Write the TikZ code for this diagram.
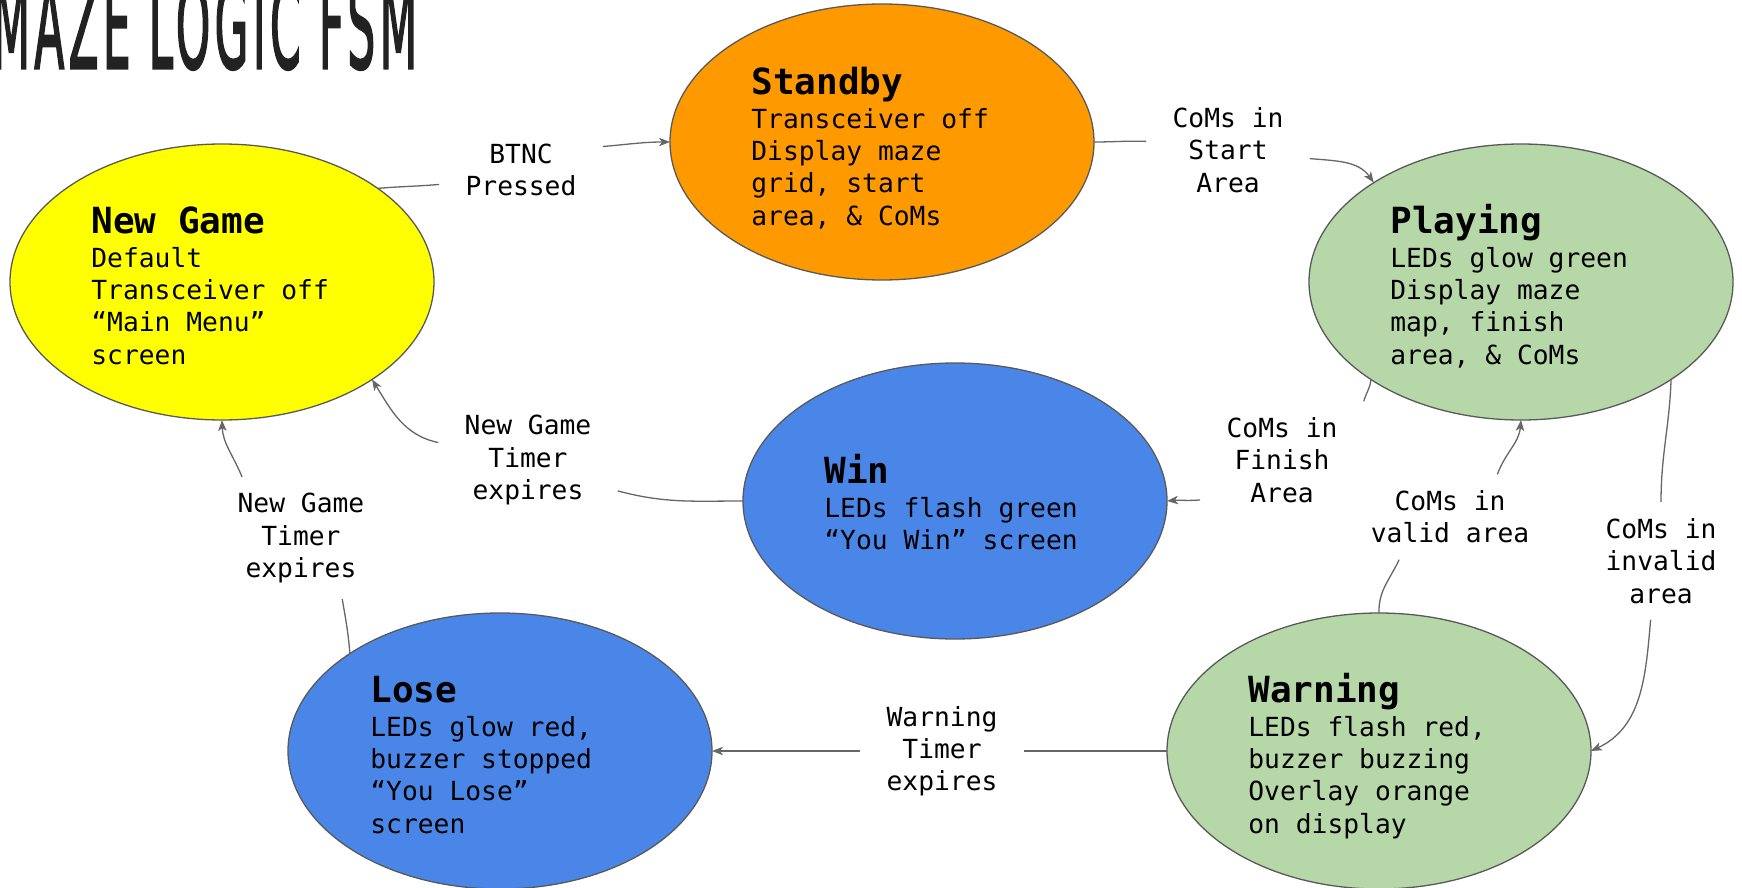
\documentclass[tikz,border=0pt]{standalone}
\usepackage{fontspec}
\usepackage{graphicx}
\setmainfont{DejaVu Sans}
\setmonofont{DejaVu Sans Mono}
\newfontfamily\titlefont{DejaVu Sans}[FakeBold=2.6, LetterSpace=10]
\usetikzlibrary{shapes.geometric,arrows.meta}

\definecolor{ngyellow}{HTML}{FFFF00}
\definecolor{sborange}{HTML}{FF9900}
\definecolor{stgreen}{HTML}{B6D7A8}
\definecolor{stblue}{HTML}{4A86E8}
\definecolor{rimcol}{HTML}{595959}
\definecolor{wirecol}{HTML}{666666}
\definecolor{titlecol}{HTML}{222222}

\newcommand\bodyfont{\fontsize{13.15pt}{16.1pt}\selectfont\ttfamily\mdseries}
\newcommand\headfont{\fontsize{18pt}{20pt}\selectfont\ttfamily\bfseries}
\newcommand\sline[1]{\hbox{#1}}
% heading line followed by the body lines of a state
\newcommand\statebox[2]{\vtop{\headfont\sline{#1}\vskip0.9pt\bodyfont #2}}

\begin{document}
\begin{tikzpicture}[x=0.5pt,y=-0.5pt,
  stateshape/.style={ellipse, draw=rimcol, line width=0.65pt,
    minimum width=212pt, minimum height=138pt, inner sep=0pt, outer sep=0pt},
  statetext/.style={anchor=base west, inner sep=0pt, text=black},
  trans/.style={font=\bodyfont, align=center, inner xsep=13pt, inner ysep=8pt, text=black},
  wireline/.style={draw=wirecol, line width=0.65pt},
  arrline/.style={wireline, -{Stealth[length=5.5pt,width=4.2pt,inset=1.5pt]}}]

\useasboundingbox (0,0) rectangle (1742,888);
\clip (0,0) rectangle (1742,888);

% title
\node[anchor=base west, inner sep=0pt, text=titlecol,
      font=\titlefont\fontsize{59pt}{60pt}\selectfont] (title) at (-8,68)
      {\scalebox{0.37}[1]{MAZE LOGIC FSM}};

% states
\node[stateshape, fill=ngyellow] (ng)   at (222,282) {};
\node[stateshape, fill=sborange] (sb)   at (882,142) {};
\node[stateshape, fill=stgreen]  (pl)   at (1521,282) {};
\node[stateshape, fill=stblue]   (win)  at (955,501) {};
\node[stateshape, fill=stblue]   (lose) at (500,751) {};
\node[stateshape, fill=stgreen]  (warn) at (1379,751) {};

\node[statetext] (ngtxt) at (91,233.5) {\statebox{New Game}{%
  \sline{Default}\sline{Transceiver off}\sline{“Main Menu”}\sline{screen}}};
\node[statetext] (sbtxt) at (751,94.5) {\statebox{Standby}{%
  \sline{Transceiver off}\sline{Display maze}\sline{grid, start}\sline{area, \& CoMs}}};
\node[statetext] (pltxt) at (1390,233.5) {\statebox{Playing}{%
  \sline{LEDs glow green}\sline{Display maze}\sline{map, finish}\sline{area, \& CoMs}}};
\node[statetext] (wintxt) at (824,483.5) {\statebox{Win}{%
  \sline{LEDs flash green}\sline{“You Win” screen}}};
\node[statetext] (losetxt) at (370,702.5) {\statebox{Lose}{%
  \sline{LEDs glow red,}\sline{buzzer stopped}\sline{“You Lose”}\sline{screen}}};
\node[statetext] (warntxt) at (1248,702.5) {\statebox{Warning}{%
  \sline{LEDs flash red,}\sline{buzzer buzzing}\sline{Overlay orange}\sline{on display}}};

% transition labels
\node[trans] (btnc) at (521,170) {BTNC\\Pressed};
\node[trans] (sa)   at (1228,150) {CoMs in\\Start\\Area};
\node[trans] (fin)  at (1282,460) {CoMs in\\Finish\\Area};
\node[trans] (tm1)  at (528,460) {New Game\\Timer\\expires};
\node[trans] (tm2)  at (301,538) {New Game\\Timer\\expires};
\node[trans] (va)   at (1450,517) {CoMs in\\valid area};
\node[trans] (inv)  at (1661,561) {CoMs in\\invalid\\area};
\node[trans] (wt)   at (942,751) {Warning\\Timer\\expires};

% transitions
\draw[wireline] (ng.31) to[out=5,in=185] (btnc.190);
\draw[arrline]  (btnc.16) to[out=5,in=180] (sb.180);

\draw[wireline] (sb.0) to[out=0,in=178] (sa.174);
\draw[arrline]  (sa.-6) to[out=-5,in=125] (pl.146);

\draw[wireline] (pl.213) to[out=-95,in=75] (fin.north east);
\draw[arrline]  (fin.206) to[out=185,in=5] (win.0);

\draw[wireline] (win.180) to[out=180,in=-15] (tm1.341);
\draw[arrline]  (tm1.169) to[out=168,in=-58] (ng.-33);

\draw[wireline] (lose.147) to[out=95,in=-80] (tm2.304);
\draw[arrline]  (tm2.134) to[out=112,in=-88] (ng.270);

\draw[wireline] (warn.90) to[out=92,in=-115] (va.220);
\draw[arrline]  (va.42) to[out=70,in=-95] (pl.270);

\draw[wireline] (pl.-33) to[out=-92,in=90] (inv.north);
\draw[arrline]  (inv.260) to[out=-95,in=25] (warn.0);

\draw[wireline] (warn.180) -- (wt.east);
\draw[arrline]  (wt.west) -- (lose.0);
\end{tikzpicture}
\end{document}
